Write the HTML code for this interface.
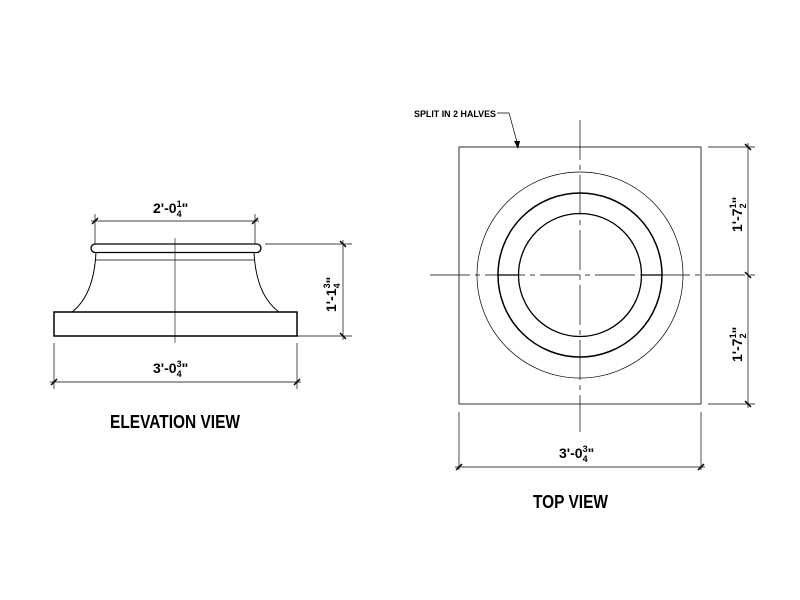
<!DOCTYPE html>
<html><head><style>html,body{margin:0;padding:0;background:#fff}svg{display:block}</style></head><body>
<svg width="800" height="600" viewBox="0 0 800 600" xmlns="http://www.w3.org/2000/svg" font-family="Liberation Sans, sans-serif" font-weight="bold">
<rect width="800" height="600" fill="#fff"/>
<g fill="none" stroke="#000">
<rect x="54" y="312" width="243" height="24" stroke-width="1.5"/>
<rect x="91" y="244" width="170" height="8.5" rx="4.2" stroke-width="1.3"/>
<line x1="95" y1="260" x2="255" y2="260" stroke-width="0.8"/>
<path d="M96 252 Q94 295 72 312" stroke-width="1"/>
<path d="M254 252 Q256 295 279 312" stroke-width="1"/>
<line x1="175" y1="238" x2="175" y2="343" stroke-width="0.6"/>
<g stroke-width="0.7">
<line x1="95" y1="214" x2="95" y2="244"/><line x1="255" y1="214" x2="255" y2="244"/>
<line x1="91" y1="221" x2="259" y2="221"/>
<line x1="265" y1="244" x2="352" y2="244"/><line x1="265" y1="336" x2="352" y2="336"/>
<line x1="343" y1="240" x2="343" y2="340"/>
<line x1="54" y1="343" x2="54" y2="389"/><line x1="297" y1="343" x2="297" y2="389"/>
<line x1="50" y1="382" x2="301" y2="382"/>
</g>
<g stroke-width="1.5">
<line x1="92" y1="224" x2="98" y2="218"/><line x1="252" y1="224" x2="258" y2="218"/>
<line x1="340" y1="241" x2="346" y2="247"/><line x1="340" y1="333" x2="346" y2="339"/>
<line x1="51" y1="385" x2="57" y2="379"/><line x1="294" y1="385" x2="300" y2="379"/>
</g>
<rect x="459" y="147" width="242" height="257" stroke-width="0.8"/>
<circle cx="580" cy="275" r="103" stroke-width="0.7"/>
<circle cx="580" cy="275" r="82" stroke-width="1.5"/>
<circle cx="580" cy="275" r="61.5" stroke-width="1.3"/>
<line x1="580" y1="120" x2="580" y2="432" stroke-width="0.7" stroke-dasharray="40,5,5,5"/>
<line x1="430" y1="275" x2="756" y2="275" stroke-width="0.7" stroke-dasharray="40,5,5,5"/>
<line x1="498" y1="275" x2="518" y2="275" stroke-width="1.3"/>
<line x1="642" y1="275" x2="662" y2="275" stroke-width="1.3"/>
<g stroke-width="0.7">
<line x1="708" y1="147" x2="755" y2="147"/><line x1="708" y1="404" x2="755" y2="404"/>
<line x1="748" y1="143" x2="748" y2="408"/>
<line x1="459" y1="412" x2="459" y2="470"/><line x1="701" y1="412" x2="701" y2="470"/>
<line x1="455" y1="467" x2="705" y2="467"/>
<polyline points="497,113 509,113 517,142"/>
</g>
<g stroke-width="1.5">
<line x1="745" y1="144" x2="751" y2="150"/><line x1="745" y1="272" x2="751" y2="278"/><line x1="745" y1="401" x2="751" y2="407"/>
<line x1="456" y1="470" x2="462" y2="464"/><line x1="698" y1="470" x2="704" y2="464"/>
</g>
</g>
<polygon points="514,141 520,141 518,149" fill="#000"/>
<g fill="#000" font-size="14">
<text x="153" y="213">2'-0<tspan font-size="9" dy="-6">1</tspan><tspan font-size="9" dx="-5" dy="10">4</tspan><tspan dy="-4">"</tspan></text>
<text x="153" y="373">3'-0<tspan font-size="9" dy="-6">3</tspan><tspan font-size="9" dx="-5" dy="10">4</tspan><tspan dy="-4">"</tspan></text>
<text x="559" y="458">3'-0<tspan font-size="9" dy="-6">3</tspan><tspan font-size="9" dx="-5" dy="10">4</tspan><tspan dy="-4">"</tspan></text>
<text transform="translate(336,312) rotate(-90)">1'-1<tspan font-size="9" dy="-6">3</tspan><tspan font-size="9" dx="-5" dy="10">4</tspan><tspan dy="-4">"</tspan></text>
<text transform="translate(742,232) rotate(-90)">1'-7<tspan font-size="9" dy="-6">1</tspan><tspan font-size="9" dx="-5" dy="10">2</tspan><tspan dy="-4">"</tspan></text>
<text transform="translate(742,362) rotate(-90)">1'-7<tspan font-size="9" dy="-6">1</tspan><tspan font-size="9" dx="-5" dy="10">2</tspan><tspan dy="-4">"</tspan></text>
<text x="414" y="117" font-size="9" textLength="82" lengthAdjust="spacingAndGlyphs">SPLIT IN 2 HALVES</text>
<text x="110" y="428" font-size="18" textLength="130" lengthAdjust="spacingAndGlyphs">ELEVATION VIEW</text>
<text x="533" y="508" font-size="18" textLength="75" lengthAdjust="spacingAndGlyphs">TOP VIEW</text>
</g>
</svg>
</body></html>
